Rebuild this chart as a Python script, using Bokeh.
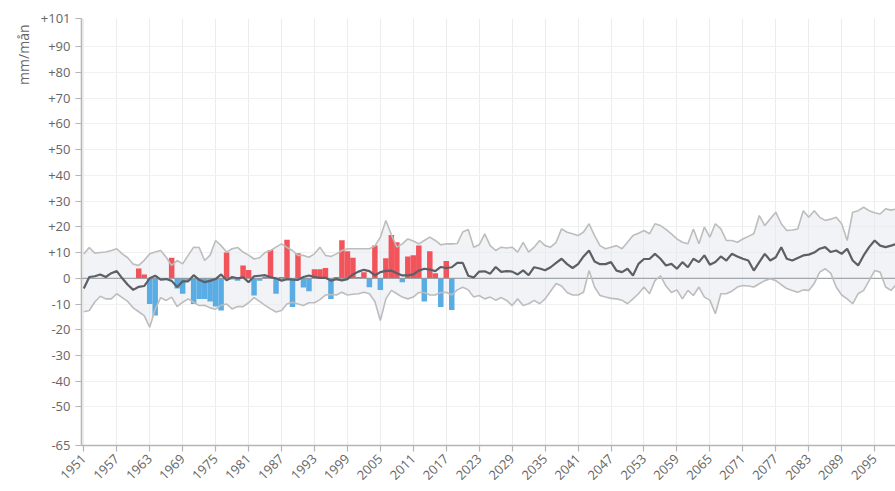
from math import pi
from bokeh.plotting import figure
from bokeh.models import FixedTicker, Range1d, Title, ColumnDataSource
from bokeh.embed import file_html
from bokeh.resources import INLINE

years = list(range(1951, 2101))

median = [
    -4, 0.5, 0.8, 1.5, 0.5, 2, 2.8, 0, -2.5, -4.5,
    -3.3, -3, 0, 1, -0.5, -0.3, -1, -3.4, -1.2, -1.2,
    1.2, -0.6, -1.5, -1, -0.3, 1.5, -0.8, 0.5, 0, 0.4,
    -1.5, 0.8, 1, 1.2, 0.4, 0, -0.9, -0.3, -0.5, -0.6,
    0.5, 1.1, 0.5, 0.2, 0.2, -0.9, -0.3, -0.8, -0.3, 1.5,
    2.6, 3.3, 2.8, 1.1, 2.4, 2.9, 3, 2, 1.1, 1.1,
    1.5, 3, 3.7, 3.4, 2.8, 4.4, 4, 4.3, 6, 6,
    1, 0.3, 2.6, 2.7, 1.8, 4.4, 2.5, 2.8, 2.6, 1.5,
    3.1, 1.2, 4.3, 3.8, 3.1, 4.3, 6, 7.6, 5.5, 4,
    5.5, 8.5, 10.8, 6.5, 5.5, 5.5, 6.3, 3, 2.4, 3.7,
    1.1, 5.6, 7.5, 7.5, 9.5, 7.6, 5, 5.6, 3.7, 6.3,
    4.3, 7.6, 6.3, 8.9, 5.3, 6.3, 8.5, 6.9, 9.5, 8.5,
    7.6, 6.9, 3, 6.3, 9.5, 6.9, 8.2, 12.1, 7.6, 6.9,
    7.9, 8.9, 9.2, 10, 11.5, 12.1, 10.2, 10.8, 9.5, 11.5,
    6.9, 5, 8.9, 12.1, 14.7, 12.7, 12.1, 12.7, 13.4, 12.7,
]

upper = [
    9.5, 12, 9.8, 10, 10.2, 10.8, 11.5, 9.5, 8, 5.5,
    5, 7, 9.5, 10.2, 10.8, 8.2, 5, 6.9, 5.6, 8.9,
    12.1, 12, 6.9, 9, 14.7, 12.7, 10.2, 11.5, 12, 10.2,
    9, 7.5, 8, 10, 10.8, 12.1, 13.4, 12, 10.8, 8.9,
    8.9, 8.2, 9.5, 12.1, 8.9, 8.5, 9.5, 10.8, 11.5, 11.5,
    11.5, 11.5, 11.5, 12.5, 16, 22.5, 17, 12.1, 13.4, 15.3,
    14.5, 13.4, 14.7, 16, 14.7, 13, 13.4, 13.4, 13.5, 18,
    19, 12.1, 13, 17.3, 12.7, 10.8, 12.1, 11.8, 12.1, 10.2,
    14, 10.2, 12.1, 14.7, 12.7, 12.1, 14, 19.2, 17.9, 17.3,
    16.6, 18, 21.2, 16.6, 12.7, 11.5, 12.1, 12.7, 11.5, 14,
    16.6, 17.5, 18.6, 17.3, 21.2, 20.5, 19, 17.3, 15.3, 14,
    13.4, 19.2, 13.4, 19.9, 16, 21.2, 19.2, 14.7, 14.7, 14,
    15.3, 16.3, 17.3, 24.4, 20.5, 23.1, 25.7, 21.2, 18.6, 18.8,
    19.2, 26.3, 23.7, 26.3, 23.7, 22.5, 23, 23.7, 21.2, 14.7,
    25.7, 26.3, 27.6, 26.3, 25.5, 25, 27, 26.5, 27, 27,
]

lower = [
    -13, -12.5, -9.2, -7, -8, -8, -6, -7.5, -9, -11.5,
    -13, -14.5, -19, -12, -7.5, -8.6, -7.3, -11, -9.3, -8,
    -9.3, -10.6, -10.5, -11.5, -12, -10.5, -10, -11.9, -11, -11,
    -9.5, -7.5, -9, -10.5, -11.9, -13.1, -12.5, -10, -9.3, -10,
    -10.6, -9.5, -9.5, -8.3, -6.5, -6.3, -6.5, -5.4, -6.5, -6.2,
    -6, -5.4, -6, -9, -16.4, -8, -4.7, -6, -7.3, -8,
    -7.3, -5.5, -5.5, -6.5, -6.5, -5.5, -5.4, -6.5, -4.5, -3.5,
    -4.5, -7.3, -6.7, -8, -7.3, -8.5, -7.5, -8.6, -10.6, -8,
    -10.6, -9.9, -8.6, -9.9, -8, -5, -2, -3, -5.5, -6.5,
    -6.5, -5.4, 3, -3.4, -6.7, -7.3, -7.8, -8, -8.5, -9.9,
    -8, -6, -3.4, -6, -0.9, 1, -3, -5.5, -4.5, -8,
    -4.7, -6.7, -3.4, -7.3, -8.5, -13.8, -6, -6, -5, -3.4,
    -2.8, -3, -3.4, -2.1, -0.9, -0.2, -0.9, -2.5, -4, -4.7,
    -5.4, -4.5, -4.7, -2, 2.4, 3.7, 2, -3.4, -6.5, -8,
    -9.9, -6, -4.7, -0.9, 3, 2.4, -3.4, -4.7, -2.1, -0.9,
]

obs_years = list(range(1951, 2019))
observed = [
    0, 0, 0, 0, 0, 0, 0, 0, 0, 0,
    3.8, 1.5, -10, -14.5, 0, -0.5, 8, -4, -6, -1,
    -10, -8, -8, -9, -11, -12.5, 10, -0.5, -1, 5,
    3.2, -6.7, -1, 0.5, 11, -6, 0.5, 15, -11.2, 9.7,
    -3.6, -5, 3.5, 3.5, 4, -8, 0.5, 14.8, 10.5, 8,
    0.5, 2.4, -3.5, 12.8, -4.5, 7.8, 16.8, 14, -1.5, 8.5,
    9, 12.8, -9, 10.5, 2, -11.2, 6.7, -12.3,
]

y_ticks = [-65, -50, -40, -30, -20, -10, 0, 10, 20, 30, 40, 50, 60, 70, 80, 90, 101]
x_ticks = list(range(1951, 2096, 6))

RED = "#f2545b"
BLUE = "#5aade4"
X0, X1 = 1950.58, 2098.8

p = figure(width=895, height=491,
           x_range=Range1d(X0, X1), y_range=Range1d(-65, 101),
           output_backend="svg", toolbar_location=None,
           min_border_left=81, min_border_right=0,
           min_border_top=18, min_border_bottom=46)
p.outline_line_color = None
p.background_fill_color = "white"

band = ColumnDataSource(dict(x=years, lo=lower, hi=upper, m=median))
p.varea(x="x", y1="lo", y2="hi", source=band, fill_color="#e6eaee", fill_alpha=0.55)

bars = ColumnDataSource(dict(
    x=obs_years, top=observed,
    color=[RED if v > 0 else BLUE for v in observed]))
p.vbar(x="x", top="top", bottom=0, width=1.0, source=bars,
       fill_color="color", line_color=None)

p.line(x=[X0, X1], y=[0, 0], line_color="#8d959c", line_width=1)
p.line(x="x", y="hi", source=band, line_color="#bdbdbd", line_width=1.6)
p.line(x="x", y="lo", source=band, line_color="#bdbdbd", line_width=1.6)
p.line(x="x", y="m", source=band, line_color="#5b5f66", line_width=2.2)

p.yaxis.ticker = FixedTicker(ticks=y_ticks)
p.yaxis.major_label_overrides = {t: ("+%d" % t if t > 0 else str(t)) for t in y_ticks}
p.xaxis.ticker = FixedTicker(ticks=x_ticks)
p.xaxis.major_label_orientation = pi / 4

for ax in (p.xaxis, p.yaxis):
    ax.axis_line_color = "#b5b5b5"
    ax.axis_line_width = 1.6
    ax.major_tick_line_color = "#b5b5b5"
    ax.major_tick_line_width = 1.2
    ax.major_tick_in = 0
    ax.major_tick_out = 6
    ax.minor_tick_line_color = None
    ax.major_label_text_color = "#666666"
    ax.major_label_text_font = "Open Sans"
    ax.major_label_text_font_size = "13px"
    ax.major_label_standoff = 5

p.xgrid.grid_line_color = "#ececec"
p.ygrid.grid_line_color = "#f1f1f1"

p.add_layout(Title(text="mm/mån", align="right", offset=6,
                   text_font="Open Sans", text_font_size="14px",
                   text_font_style="normal", text_color="#666666"), "left")

open("out.html", "w").write(file_html(p, INLINE))
